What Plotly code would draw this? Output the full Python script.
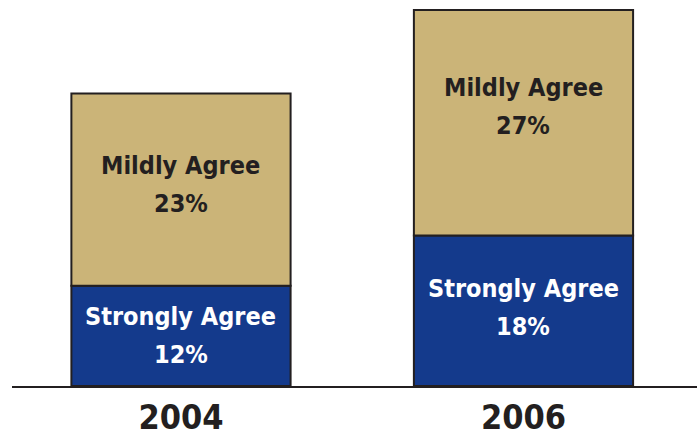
import plotly.graph_objects as go

years = ["2004", "2006"]
strongly = [12, 18]
mildly = [23, 27]
strongly_label = "Strongly Agree"
mildly_label = "Mildly Agree"

TAN = "#CBB478"
BLUE = "#143A8C"
DARK = "#231F20"
FONT = "DejaVu Sans Condensed, Liberation Sans, Arial, sans-serif"

fig = go.Figure()
fig.add_trace(go.Bar(x=years, y=strongly, marker=dict(color=BLUE, line=dict(color=DARK, width=2)),
                     width=0.64, name=strongly_label, hoverinfo="skip"))
fig.add_trace(go.Bar(x=years, y=mildly, base=strongly, marker=dict(color=TAN, line=dict(color=DARK, width=2)),
                     width=0.64, name=mildly_label, hoverinfo="skip"))

# label block offsets (px, up) relative to the segment centre
strong_shift = [0, 3]
mild_shift = [5, 16]
HALF = 19
for i, (s, m) in enumerate(zip(strongly, mildly)):
    for y, name, val, col, sh in ((s / 2, strongly_label, s, "white", strong_shift[i]),
                                  (s + m / 2, mildly_label, m, DARK, mild_shift[i])):
        fig.add_annotation(x=i, y=y, text=f"<b>{name}</b>", showarrow=False,
                           font=dict(family=FONT, size=25, color=col), yshift=sh + HALF)
        fig.add_annotation(x=i, y=y, text=f"<b>{val}%</b>", showarrow=False,
                           font=dict(family=FONT, size=25, color=col), yshift=sh - HALF)

fig.update_layout(
    barmode="overlay",
    width=697, height=439,
    margin=dict(l=12, r=0, t=0, b=53),
    plot_bgcolor="white", paper_bgcolor="white",
    showlegend=False,
    xaxis=dict(type="category", range=[-0.4934, 1.5066], showline=True, linecolor=DARK, linewidth=2,
               ticks="", showgrid=False, automargin=False,
               tickfont=dict(family=FONT, size=34, color=DARK), tickprefix="<b>", ticksuffix="</b>"),
    yaxis=dict(range=[0, 46.2], visible=False, showgrid=False),
)

fig.write_html("out.html", config={"displayModeBar": False},
               post_script="document.body.style.margin='0';")
